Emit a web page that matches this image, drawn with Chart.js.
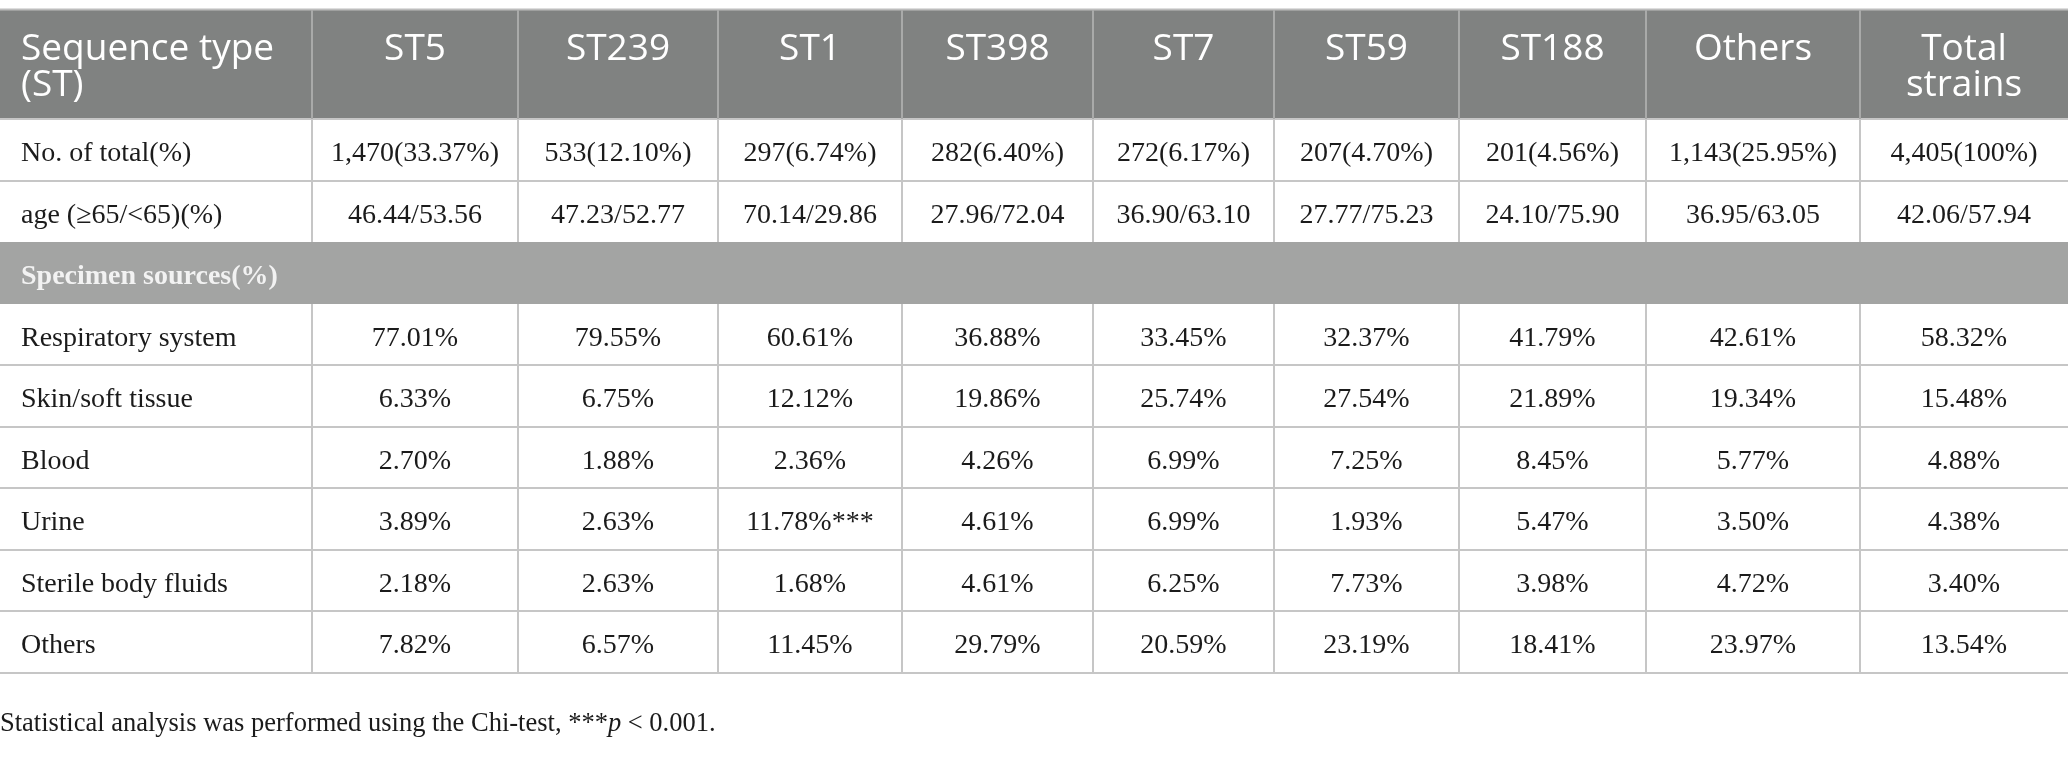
<!DOCTYPE html>
<html>
<head>
<meta charset="utf-8">
<script src="https://cdn.jsdelivr.net/npm/chart.js@4.4.1/dist/chart.umd.min.js"></script>
<style>
  html, body { margin: 0; padding: 0; background: #ffffff; }
  #wrap { width: 2068px; height: 781px; position: relative; }
</style>
</head>
<body>
<div id="wrap"><canvas id="c"></canvas></div>
<script>
// ---------------- DATA ----------------
const cornerLabel = ['Sequence type', '(ST)'];
const columnLabels = [['ST5'], ['ST239'], ['ST1'], ['ST398'], ['ST7'], ['ST59'], ['ST188'], ['Others'], ['Total', 'strains']];
const totalLabel = 'No. of total(%)';
const totalValues = ['1,470(33.37%)', '533(12.10%)', '297(6.74%)', '282(6.40%)', '272(6.17%)', '207(4.70%)', '201(4.56%)', '1,143(25.95%)', '4,405(100%)'];
const ageLabel = 'age (\u226565/<65)(%)';
const ageValues = ['46.44/53.56', '47.23/52.77', '70.14/29.86', '27.96/72.04', '36.90/63.10', '27.77/75.23', '24.10/75.90', '36.95/63.05', '42.06/57.94'];
const sectionLabel = 'Specimen sources(%)';
const specimenLabels = ['Respiratory system', 'Skin/soft tissue', 'Blood', 'Urine', 'Sterile body fluids', 'Others'];
const respiratory = [77.01, 79.55, 60.61, 36.88, 33.45, 32.37, 41.79, 42.61, 58.32];
const skinSoft    = [6.33, 6.75, 12.12, 19.86, 25.74, 27.54, 21.89, 19.34, 15.48];
const blood       = [2.70, 1.88, 2.36, 4.26, 6.99, 7.25, 8.45, 5.77, 4.88];
const urine       = [3.89, 2.63, 11.78, 4.61, 6.99, 1.93, 5.47, 3.50, 4.38];
const sterile     = [2.18, 2.63, 1.68, 4.61, 6.25, 7.73, 3.98, 4.72, 3.40];
const othersSrc   = [7.82, 6.57, 11.45, 29.79, 20.59, 23.19, 18.41, 23.97, 13.54];
const specimenValues = [respiratory, skinSoft, blood, urine, sterile, othersSrc];
const significance = { row: 3, col: 2, mark: '***' };
const footnoteParts = [
  { text: 'Statistical analysis was performed using the Chi-test, ***', italic: false },
  { text: 'p', italic: true },
  { text: ' < 0.001.', italic: false }
];

// ---------------- LAYOUT (scale units) ----------------
const W = 2068, H = 781;
const colEdges = [0, 312, 518, 718, 902, 1093, 1274, 1459, 1646, 1860, 2068];
const rowEdges = [10, 119, 181, 242, 304, 365, 427, 488, 550, 611, 673];
const headBaselines = [60, 96];
const footBaseline = 731;

const STY = {
  headBg: '#808281', sectionBg: '#a3a4a3', headSep: '#a9aaa9',
  grid: '#c6c6c6', border: '#bdbdbd', text: '#1b1b1b', headText: '#ffffff', sectionText: '#f2f2f2',
  headFont: '37px "Open Sans"', bodyFont: '28px "Liberation Serif"',
  sectionFont: 'bold 28px "Liberation Serif"', footFont: '26.5px "Liberation Serif"', footItalic: 'italic 26.5px "Liberation Serif"'
};

const tablePlugin = {
  id: 'tablePlugin',
  afterDraw(chart) {
    const ctx = chart.ctx;
    const xs = chart.scales.x, ys = chart.scales.y;
    const X = v => xs.getPixelForValue(v);
    const Y = v => ys.getPixelForValue(v);
    const nCols = colEdges.length - 1;
    ctx.save();
    // backgrounds
    ctx.fillStyle = STY.headBg;
    ctx.fillRect(X(0), Y(rowEdges[0]), X(W) - X(0), Y(rowEdges[1]) - Y(rowEdges[0]));
    ctx.fillStyle = STY.sectionBg;
    ctx.fillRect(X(0), Y(rowEdges[3]), X(W) - X(0), Y(rowEdges[4]) - Y(rowEdges[3]));

    // horizontal lines
    ctx.lineWidth = 2;
    ctx.strokeStyle = STY.border;
    ctx.beginPath(); ctx.moveTo(X(0), Y(rowEdges[0]) - 0.5); ctx.lineTo(X(W), Y(rowEdges[0]) - 0.5); ctx.stroke();
    ctx.strokeStyle = STY.grid;
    for (let r = 1; r < rowEdges.length; r++) {
      if (r === 3 || r === 4) continue;
      ctx.beginPath(); ctx.moveTo(X(0), Y(rowEdges[r])); ctx.lineTo(X(W), Y(rowEdges[r])); ctx.stroke();
    }
    // vertical lines
    for (let c = 1; c < nCols; c++) {
      const x = X(colEdges[c]);
      ctx.strokeStyle = STY.headSep;
      ctx.beginPath(); ctx.moveTo(x, Y(rowEdges[0])); ctx.lineTo(x, Y(rowEdges[1])); ctx.stroke();
      ctx.strokeStyle = STY.grid;
      ctx.beginPath(); ctx.moveTo(x, Y(rowEdges[1])); ctx.lineTo(x, Y(rowEdges[3])); ctx.stroke();
      ctx.beginPath(); ctx.moveTo(x, Y(rowEdges[4])); ctx.lineTo(x, Y(rowEdges[10])); ctx.stroke();
    }

    // header text
    ctx.fillStyle = STY.headText;
    ctx.font = STY.headFont;
    ctx.textBaseline = 'alphabetic';
    const hb1 = Y(headBaselines[0]), hb2 = Y(headBaselines[1]);
    ctx.textAlign = 'left';
    ctx.fillText(cornerLabel[0], X(colEdges[0] + 21), hb1);
    ctx.fillText(cornerLabel[1], X(colEdges[0] + 21), hb2);
    ctx.textAlign = 'center';
    columnLabels.forEach((lines, i) => {
      const cx = X((colEdges[i + 1] + colEdges[i + 2]) / 2);
      lines.forEach((ln, k) => ctx.fillText(ln, cx, k === 0 ? hb1 : hb2));
    });

    // body rows
    const rowBase = r => Y((rowEdges[r] + rowEdges[r + 1]) / 2 + 11);
    const colCenter = i => X((colEdges[i + 1] + colEdges[i + 2]) / 2);
    const leftX = X(colEdges[0] + 21);
    ctx.fillStyle = STY.text;
    ctx.font = STY.bodyFont;
    const bodyRows = [[totalLabel, totalValues], [ageLabel, ageValues]];
    bodyRows.forEach(([lab, vals], k) => {
      const r = 1 + k;
      ctx.textAlign = 'left';
      ctx.fillText(lab, leftX, rowBase(r));
      ctx.textAlign = 'center';
      vals.forEach((v, i) => ctx.fillText(v, colCenter(i), rowBase(r)));
    });
    // section row
    ctx.fillStyle = STY.sectionText;
    ctx.font = STY.sectionFont;
    ctx.textAlign = 'left';
    ctx.fillText(sectionLabel, leftX, rowBase(3));
    // specimen rows
    ctx.fillStyle = STY.text;
    ctx.font = STY.bodyFont;
    specimenLabels.forEach((lab, k) => {
      const r = 4 + k;
      ctx.textAlign = 'left';
      ctx.fillText(lab, leftX, rowBase(r));
      ctx.textAlign = 'center';
      specimenValues[k].forEach((v, i) => {
        let s = v.toFixed(2) + '%';
        if (k === significance.row && i === significance.col) s += significance.mark;
        ctx.fillText(s, colCenter(i), rowBase(r));
      });
    });

    // footnote
    ctx.fillStyle = STY.text;
    ctx.textAlign = 'left';
    let fx = X(0);
    footnoteParts.forEach(p => {
      ctx.font = p.italic ? STY.footItalic : STY.footFont;
      ctx.fillText(p.text, fx, Y(footBaseline));
      fx += ctx.measureText(p.text).width;
    });
    ctx.restore();
  }
};

new Chart(document.getElementById('c'), {
  type: 'scatter',
  data: { datasets: [{ data: [], pointRadius: 0 }] },
  options: {
    responsive: true,
    maintainAspectRatio: false,
    animation: false,
    devicePixelRatio: 1,
    layout: { padding: 0 },
    plugins: { legend: { display: false }, tooltip: { enabled: false } },
    events: [],
    scales: {
      x: { type: 'linear', min: 0, max: W, display: false },
      y: { type: 'linear', min: 0, max: H, reverse: true, display: false }
    }
  },
  plugins: [tablePlugin]
});
</script>
</body>
</html>
